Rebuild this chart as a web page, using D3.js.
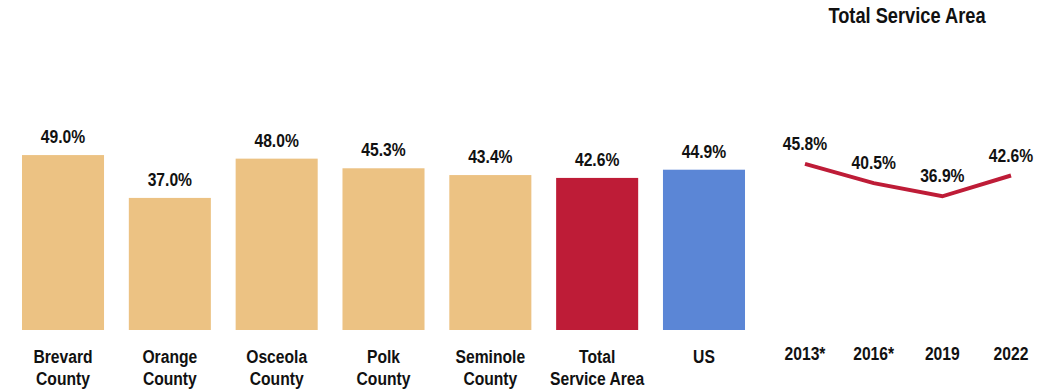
<!DOCTYPE html>
<html><head><meta charset="utf-8">
<script src="https://cdn.jsdelivr.net/npm/d3@7"></script>
<style>
body{margin:0;background:#fff;}
text{font-family:"Liberation Sans","Arial",sans-serif;font-weight:bold;fill:#111;}
</style></head><body>
<svg id="c" width="1040" height="389"></svg>
<script>
const categories = ["Brevard County","Orange County","Osceola County","Polk County","Seminole County","Total Service Area","US"];
const barLines = [["Brevard","County"],["Orange","County"],["Osceola","County"],["Polk","County"],["Seminole","County"],["Total","Service Area"],["US"]];
const values = [49.0,37.0,48.0,45.3,43.4,42.6,44.9];
const barColors = ["#ECC283","#ECC283","#ECC283","#ECC283","#ECC283","#BE1C37","#5B86D6"];
const years = ["2013*","2016*","2019","2022"];
const trend = [45.8,40.5,36.9,42.6];
const trendTitle = "Total Service Area";

const svg = d3.select("#c");
const fmt = v => v.toFixed(1) + "%";
// narrow the text horizontally around its anchor (emulates a narrow typeface)
function narrow(sel, k){
  sel.each(function(){
    const xx = +this.getAttribute("x");
    this.setAttribute("transform",`translate(${xx},0) scale(${k},1) translate(${-xx},0)`);
  });
}

// bar chart
const x = d3.scaleBand().domain(categories).range([9.6,757.4]).paddingInner(0.232).paddingOuter(0.116);
const y = d3.scaleLinear().domain([0,100]).range([330,330-357]);
const g = svg.append("g");
g.selectAll("rect").data(values).join("rect")
  .attr("x",(d,i)=>x(categories[i])).attr("width",x.bandwidth())
  .attr("y",d=>y(d)).attr("height",d=>y(0)-y(d))
  .attr("fill",(d,i)=>barColors[i]);
g.selectAll("text.v").data(values).join("text").attr("class","v")
  .attr("x",(d,i)=>x(categories[i])+x.bandwidth()/2).attr("y",d=>y(d)-12)
  .attr("text-anchor","middle").attr("font-size",18).text(fmt).call(narrow,0.87);
const lab = g.selectAll("text.c").data(barLines).join("text").attr("class","c")
  .attr("text-anchor","middle").attr("font-size",18)
  .attr("x",(d,i)=>x(categories[i])+x.bandwidth()/2).attr("y",363);
lab.selectAll("tspan").data(d=>d).join("tspan")
  .attr("x",function(){return this.parentNode.getAttribute("x");})
  .attr("dy",(d,i)=>i?21.7:0).text(d=>d);
lab.call(narrow,0.87);

// line chart
const x2 = d3.scalePoint().domain(years).range([805,1011]);
const y2 = d3.scaleLinear().domain([0,100]).range([331,331-365]);
const l = svg.append("g");
l.append("path").datum(trend)
  .attr("d",d3.line().x((d,i)=>x2(years[i])).y(d=>y2(d)))
  .attr("fill","none").attr("stroke","#BE1C37").attr("stroke-width",4);
l.selectAll("text.v").data(trend).join("text").attr("class","v")
  .attr("x",(d,i)=>x2(years[i])).attr("y",d=>y2(d)-14)
  .attr("text-anchor","middle").attr("font-size",18).text(fmt).call(narrow,0.87);
l.selectAll("text.c").data(years).join("text").attr("class","c")
  .attr("x",d=>x2(d)).attr("y",360).attr("text-anchor","middle").attr("font-size",18).text(d=>d).call(narrow,0.87);
l.append("text").attr("x",907).attr("y",23.5).attr("text-anchor","middle").attr("font-size",22).text(trendTitle).call(narrow,0.83);
</script></body></html>
